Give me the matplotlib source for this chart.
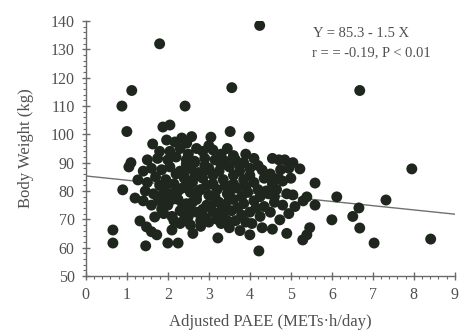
import matplotlib
matplotlib.use("Agg")
import matplotlib.pyplot as plt
from matplotlib.ticker import MultipleLocator

plt.rcParams['font.family'] = ['Liberation Serif', 'DejaVu Serif']

# Adjusted PAEE (METs·h/day) and Body Weight (kg)
paee = [
    # outliers
    1.80, 4.24, 0.88, 1.12, 1.00, 2.42, 3.56, 6.68, 7.95, 8.41, 7.03, 7.32,
    6.68, 6.51, 6.66, 6.12, 6.00, 4.22, 5.59, 3.98, 3.52,
    0.66, 0.66, 0.90, 1.46, 1.05, 1.10, 1.20, 1.40, 1.27,
    1.32, 1.48, 1.60, 1.73, 1.68, 2.00, 2.25, 2.10, 2.61, 3.22,
    1.88, 2.05, 1.63, 3.05, 1.97, 2.17, 2.34, 2.58, 2.46,
    4.71, 5.05, 5.22, 5.46, 5.39, 5.29, 4.90, 4.73, 5.05, 5.39, 5.59, 4.80, 4.30,
    # rows of the cluster
    1.80, 2.30, 2.70, 2.85, 3.10, 3.30, 3.60, 3.90,
    1.50, 1.75, 2.00, 2.20, 2.45, 2.65, 2.90, 3.15, 3.40, 3.65, 3.85, 4.10, 4.55, 4.85,
    1.40, 1.60, 1.85, 2.05, 2.30, 2.55, 2.75, 3.00, 3.25, 3.50, 3.75, 4.00, 4.50, 4.75, 4.95,
    1.50, 1.70, 1.95, 2.15, 2.40, 2.60, 2.85, 3.10, 3.35, 3.60, 3.85, 4.10, 4.35, 4.55, 4.80, 5.00,
    1.45, 1.65, 1.90, 2.10, 2.35, 2.55, 2.80, 3.00, 3.20, 3.45, 3.70, 3.95, 4.20, 4.45, 4.65, 4.90,
    1.60, 1.80, 2.00, 2.25, 2.45, 2.70, 2.95, 3.15, 3.40, 3.60, 3.85, 4.10, 4.35, 4.60, 5.10, 5.30,
    1.90, 2.10, 2.30, 2.50, 2.70, 2.90, 3.10, 3.35, 3.55, 3.80, 4.00, 4.25, 4.50, 4.95,
    2.30, 2.55, 2.80, 3.00, 3.30, 3.50, 3.76, 4.05, 4.30, 4.55,
    4.00,
    # dense core
    2.20, 2.45, 2.65, 2.90, 3.10, 3.30, 2.25, 2.50, 2.70, 2.95, 3.15, 3.40,
    3.60, 3.80, 2.35, 2.60, 2.85, 3.05, 3.30, 3.50, 3.70, 2.00, 1.80, 1.75,
    1.85, 2.15, 2.40, 2.80, 3.20, 3.45, 3.65, 3.90, 4.15, 4.25, 4.00, 4.20,
    3.90, 2.05, 2.50, 3.45, 3.00, 4.40, 4.60, 4.45, 4.70,
    2.10, 2.55, 2.75, 3.25, 3.55, 2.40, 2.95, 3.75, 1.95, 2.65,
]
weight = [
    132.0, 138.5, 110.0, 115.5, 101.0, 110.0, 116.5, 115.5, 87.8, 63.0, 61.6, 76.8,
    66.9, 71.0, 74.0, 77.9, 69.8, 58.8, 82.8, 99.1, 101.0,
    66.2, 61.6, 80.4, 60.6, 88.5, 90.0, 77.5, 76.5, 83.9,
    69.4, 67.3, 65.6, 64.5, 70.8, 61.6, 61.6, 66.2, 65.0, 63.4,
    102.6, 103.3, 96.6, 99.0, 98.0, 97.3, 98.7, 99.2, 96.9,
    91.0, 90.0, 87.8, 67.0, 64.5, 62.7, 65.0, 69.8, 78.6, 77.9, 75.0, 75.0, 87.4,
    94.0, 95.0, 95.0, 94.0, 94.5, 93.0, 92.5, 93.0,
    91.0, 91.5, 91.0, 92.0, 91.0, 90.5, 91.5, 91.0, 90.5, 91.0, 90.0, 91.5, 91.5, 91.0,
    87.0, 88.0, 87.5, 88.5, 87.0, 88.0, 86.5, 88.0, 87.0, 88.5, 87.0, 88.0, 86.0, 87.5, 88.0,
    83.0, 85.0, 84.0, 82.5, 84.5, 83.0, 84.5, 82.5, 84.0, 82.5, 84.0, 83.0, 84.5, 82.5, 83.5, 84.5,
    80.0, 79.0, 80.5, 79.0, 81.0, 79.5, 80.5, 78.5, 80.5, 79.0, 81.0, 79.5, 80.5, 79.0, 80.5, 79.0,
    75.0, 76.5, 75.0, 77.0, 75.5, 77.0, 75.0, 76.5, 75.0, 77.0, 75.5, 76.5, 74.5, 76.0, 74.5, 76.5,
    72.0, 71.0, 73.0, 71.0, 72.5, 70.5, 72.5, 71.0, 73.0, 71.5, 72.5, 71.0, 72.5, 72.0,
    68.5, 68.0, 67.5, 69.0, 68.5, 67.0, 66.0, 68.5, 67.0, 66.5,
    64.5,
    86.0, 89.5, 85.0, 89.0, 85.5, 89.0, 80.0, 82.0, 78.5, 82.0, 78.0, 82.0,
    85.5, 78.0, 74.0, 76.0, 73.5, 74.0, 73.0, 77.0, 74.0, 82.5, 82.0, 78.0,
    73.5, 69.5, 70.0, 69.5, 70.0, 69.5, 69.5, 69.0, 74.0, 78.0, 85.5, 89.0,
    81.5, 94.0, 93.0, 95.0, 96.0, 80.0, 78.0, 85.0, 84.5,
    77.0, 73.0, 80.0, 76.0, 80.5, 86.5, 87.5, 89.0, 77.5, 90.0,
]

intercept = 85.3
slope = -1.5
x_ticks = list(range(0, 10))
y_ticks = list(range(50, 141, 10))

fig = plt.figure(figsize=(4.59, 3.36), dpi=100)
ax = fig.add_axes([0.187, 0.179, 0.804, 0.758])

axis_color = '#6a6a6a'
text_color = '#505050'
ax.scatter(paee, weight, s=62, color='#1e261e', edgecolors='none', zorder=3)
ax.plot([0, 9], [intercept + slope * 0, intercept + slope * 9],
        color='#707070', lw=1.0, zorder=2)

ax.set_xlim(0, 9)
ax.set_ylim(50, 140)
ax.set_xticks(x_ticks)
ax.set_yticks(y_ticks)
ax.xaxis.set_minor_locator(MultipleLocator(0.2))
ax.yaxis.set_minor_locator(MultipleLocator(2))

for s in ['top', 'right']:
    ax.spines[s].set_visible(False)
for s in ['left', 'bottom']:
    ax.spines[s].set_color(axis_color)
    ax.spines[s].set_linewidth(1.0)

ax.tick_params(which='major', direction='inout', length=6, width=1,
               color=axis_color, labelcolor=text_color, labelsize=11.5, pad=5)
ax.tick_params(which='minor', direction='out', length=2.5, width=0.8,
               color=axis_color)

ax.set_xlabel('Adjusted PAEE (METs\u00b7h/day)', fontsize=12, color=text_color, labelpad=8)
ax.set_ylabel('Body Weight (kg)', fontsize=12, color=text_color, labelpad=12)

ax.text(0.615, 0.953, 'Y = 85.3 - 1.5 X', transform=ax.transAxes,
        fontsize=10.5, color=text_color, va='center', ha='left')
ax.text(0.612, 0.875, 'r = = -0.19, P < 0.01', transform=ax.transAxes,
        fontsize=10.5, color=text_color, va='center', ha='left')

fig.savefig('out.png', dpi=100)
